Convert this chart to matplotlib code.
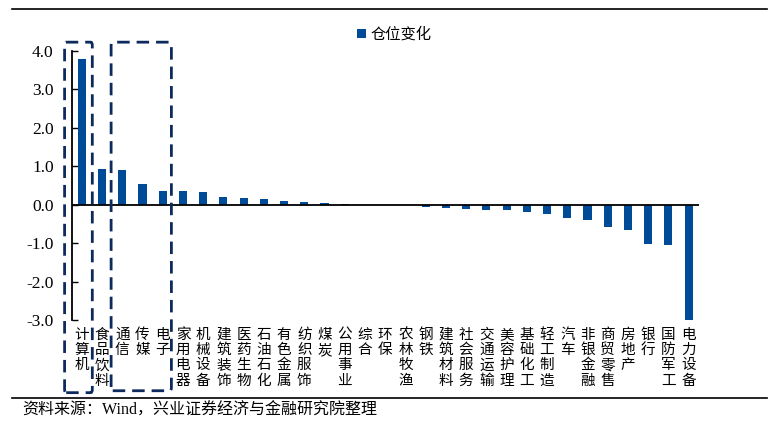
import matplotlib
matplotlib.use("Agg")
import matplotlib.pyplot as plt
from matplotlib.patches import FancyBboxPatch
from matplotlib.lines import Line2D

plt.rcParams['font.family'] = ['Liberation Serif', 'Noto Sans CJK SC', 'DejaVu Sans']

# industries, sorted by change in position
industries = ['计算机', '食品饮料', '通信', '传媒', '电子', '家用电器', '机械设备', '建筑装饰',
              '医药生物', '石油石化', '有色金属', '纺织服饰', '煤炭', '公用事业', '综合', '环保',
              '农林牧渔', '钢铁', '建筑材料', '社会服务', '交通运输', '美容护理', '基础化工',
              '轻工制造', '汽车', '非银金融', '商贸零售', '房地产', '银行', '国防军工', '电力设备']
changes = [3.79, 0.92, 0.90, 0.53, 0.37, 0.35, 0.32, 0.20, 0.17, 0.15, 0.10, 0.065, 0.05,
           0.01, 0.005, 0.0, -0.01, -0.07, -0.09, -0.10, -0.13, -0.14, -0.19, -0.25, -0.34,
           -0.41, -0.57, -0.66, -1.01, -1.04, -3.06]
yticks = [4.0, 3.0, 2.0, 1.0, 0.0, -1.0, -2.0, -3.0]

bar_color = '#004b97'
box_color = '#0d2a5c'

fig = plt.figure(figsize=(7.79, 4.25), dpi=100)
ax = fig.add_axes([0.092, 0.247, 0.805, 0.633])

x = list(range(len(industries)))
ax.bar(x, changes, width=0.4, color=bar_color, label='仓位变化', zorder=2)
ax.axhline(0, color='black', lw=1.3, zorder=3)

ax.set_xlim(-0.5, len(industries) - 0.5)
ax.set_ylim(-3.0, 4.0)
ax.set_yticks(yticks)
ax.set_yticklabels([f'{v:.1f}' for v in yticks], fontsize=12.5)
ax.tick_params(axis='y', direction='in', length=4, width=1, pad=13)
ax.set_xticks([])

for side in ['top', 'right', 'bottom']:
    ax.spines[side].set_visible(False)
ax.spines['left'].set_linewidth(1.3)

# vertical stacked labels
for i, name in enumerate(industries):
    ax.text(i, -3.2, '\n'.join(name), ha='center', va='top', fontsize=10.5,
            linespacing=1.12, family=['Noto Sans CJK SC'], clip_on=False)

# dashed highlight boxes (in category index units)
for x0, x1, y1 in [(-0.85, 0.52, -4.89), (1.45, 4.43, -4.84)]:
    box = FancyBboxPatch((x0, y1), x1 - x0, 4.23 - y1,
                         boxstyle='round,pad=0,rounding_size=0.08',
                         fill=False, ec=box_color, lw=2.0, ls=(0, (4.5, 2.5)),
                         clip_on=False, zorder=4, mutation_aspect=1)
    ax.add_patch(box)

ax.legend(loc='upper center', bbox_to_anchor=(0.515, 1.145), frameon=False,
          handlelength=0.6, handleheight=0.6, handletextpad=0.3,
          prop={'family': ['Noto Sans CJK SC'], 'size': 11})

# top and bottom rules
fig.add_artist(Line2D([0.015, 0.985], [0.98, 0.98], color='black', lw=1.2))
fig.add_artist(Line2D([0.015, 0.985], [0.063, 0.063], color='black', lw=1.2))
fig.text(0.028, 0.033, '资料来源：Wind，兴业证券经济与金融研究院整理', fontsize=11.5,
         va='center', ha='left')

fig.savefig('out.png', dpi=100)
